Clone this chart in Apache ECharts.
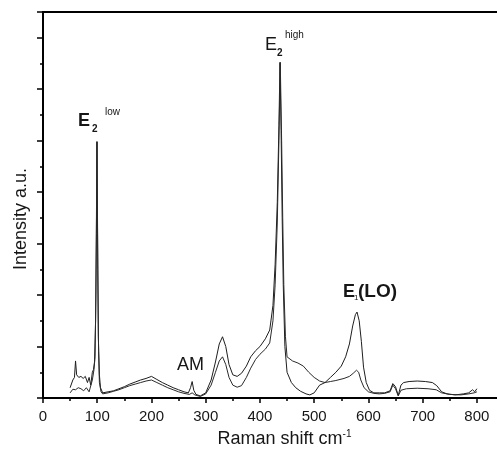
<!DOCTYPE html>
<html>
<head>
<meta charset="utf-8">
<script src="https://cdn.jsdelivr.net/npm/echarts@6/dist/echarts.min.js"></script>
<style>
  html, body { margin: 0; padding: 0; background: #fff; }
  #main { width: 497px; height: 450px; }
</style>
</head>
<body>
<div id="main"></div>
<script>
// spectrum with the strong E1(LO) band
var shiftA = [50, 55, 58, 60, 62, 66, 70, 74, 78, 82, 85, 88, 91, 93, 95, 97, 98.5, 99.5, 100.5, 102, 104, 106, 110,
    120, 130, 140, 150, 160, 170, 180, 190, 200, 210, 220, 230, 240, 250, 260, 268, 272, 275, 278, 282, 290,
    300, 310, 318, 325, 331, 337, 343, 350, 358, 366, 375, 383, 392, 400, 410, 418, 424, 428, 432, 435, 437,
    439, 441, 443, 446, 450, 458, 466, 475, 485, 492, 500, 510, 520, 530, 540, 550, 558, 565, 571, 576, 579,
    583, 587, 591, 596, 602, 610, 620, 630, 640, 645, 650, 655, 660, 665, 675, 690, 705, 718, 726, 735, 745,
    760, 775, 785, 792, 796, 800];
var intensityA = [0.2, 0.35, 0.4, 0.72, 0.45, 0.4, 0.42, 0.38, 0.42, 0.3, 0.4, 0.25, 0.5, 0.55, 0.7, 1.5, 3.2, 4.98, 3.5, 1.2, 0.45, 0.2, 0.1,
    0.12, 0.14, 0.18, 0.22, 0.27, 0.31, 0.35, 0.38, 0.42, 0.36, 0.3, 0.25, 0.2, 0.16, 0.12, 0.1, 0.2, 0.32, 0.15, 0.07, 0.04,
    0.1, 0.35, 0.7, 1.05, 1.19, 1.0, 0.65, 0.45, 0.42, 0.48, 0.62, 0.8, 0.92, 1.0, 1.15, 1.32, 1.8, 2.6, 3.8, 5.3, 6.52,
    5.2, 3.5, 2.2, 1.0, 0.5, 0.3, 0.2, 0.13, 0.08, 0.06, 0.1, 0.25, 0.3, 0.4, 0.5, 0.62, 0.8, 1.05, 1.4, 1.62, 1.67,
    1.5, 1.1, 0.6, 0.3, 0.15, 0.1, 0.1, 0.1, 0.14, 0.28, 0.22, 0.05, 0.25, 0.3, 0.32, 0.33, 0.32, 0.3, 0.24, 0.12, 0.08,
    0.06, 0.08, 0.1, 0.16, 0.12, 0.18];

// second spectrum
var shiftB = [50, 55, 60, 65, 70, 75, 80, 85, 88, 91, 94, 96, 97.5, 99.5, 101, 102.5, 104, 107, 110,
    120, 130, 140, 150, 160, 170, 180, 190, 200, 210, 220, 230, 240, 250, 260, 270, 275, 280, 290,
    300, 310, 318, 325, 331, 337, 343, 350, 358, 366, 375, 383, 392, 400, 410, 418, 424, 428, 432, 435, 437.5,
    440, 442, 444, 447, 450, 460, 470, 480, 490, 500, 510, 520, 530, 540, 555, 565, 572, 578, 582, 586, 592,
    600, 610, 620, 630, 640, 645, 650, 655, 660, 670, 690, 710, 725, 735, 750, 770, 785, 795, 800];
var intensityB = [0.1, 0.17, 0.16, 0.2, 0.18, 0.14, 0.2, 0.12, 0.1, 0.35, 0.55, 0.8, 2.0, 4.98, 2.5, 0.9, 0.3, 0.12, 0.08,
    0.1, 0.13, 0.16, 0.2, 0.24, 0.27, 0.3, 0.33, 0.35, 0.3, 0.25, 0.2, 0.16, 0.12, 0.09, 0.07, 0.1, 0.06, 0.03,
    0.08, 0.25, 0.5, 0.72, 0.8, 0.65, 0.4, 0.25, 0.21, 0.24, 0.4, 0.58, 0.75, 0.85, 0.95, 1.07, 1.5, 2.2, 3.4, 5.0, 6.52,
    5.0, 3.5, 2.2, 1.2, 0.8, 0.72, 0.68, 0.62, 0.5, 0.4, 0.33, 0.3, 0.32, 0.34, 0.38, 0.42, 0.48, 0.54, 0.5, 0.35, 0.2,
    0.12, 0.09, 0.08, 0.09, 0.12, 0.25, 0.18, 0.04, 0.15, 0.18, 0.19, 0.18, 0.16, 0.1, 0.07, 0.06, 0.08, 0.1, 0.12];

var xTicks = [0, 100, 200, 300, 400, 500, 600, 700, 800];

function pairs(xs, ys) {
    var out = [];
    for (var i = 0; i < xs.length; i++) {
        out.push([xs[i], ys[i]]);
    }
    return out;
}

var font = '"Liberation Sans", Arial, sans-serif';
var ink = '#161616';

var chart = echarts.init(document.getElementById('main'));

var option = {
    animation: false,
    backgroundColor: '#fff',
    grid: {
        left: 43, right: -7, top: 12, bottom: 52,
        outerBoundsMode: 'none',
        show: true, borderColor: '#000', borderWidth: 2
    },
    xAxis: {
        type: 'value',
        min: 0, max: 850, interval: 100,
        axisLine: { lineStyle: { color: '#000', width: 2 } },
        axisTick: { length: 5, lineStyle: { color: '#000', width: 1.5 } },
        minorTick: { show: true, splitNumber: 2, length: 3, lineStyle: { color: '#000', width: 1.5 } },
        splitLine: { show: false },
        axisLabel: {
            margin: 11, color: ink, fontFamily: font, fontSize: 15,
            showMaxLabel: false,
            formatter: function (v) { return xTicks.indexOf(v) >= 0 ? String(v) : ''; }
        },
        name: '{t|Raman shift cm}{s|-1}',
        nameLocation: 'middle',
        nameGap: 30,
        nameTextStyle: {
            padding: [0, 0, 0, 22],
            rich: {
                t: { fontFamily: font, fontSize: 18, color: ink },
                s: { fontFamily: font, fontSize: 10, color: ink, verticalAlign: 'top', padding: [0, 0, 10, 0] }
            }
        }
    },
    yAxis: {
        type: 'value',
        min: 0, max: 7.5, interval: 1,
        axisLine: { show: true, lineStyle: { color: '#000', width: 2 } },
        axisTick: { show: true, length: 6, lineStyle: { color: '#000', width: 1.5 } },
        minorTick: { show: true, splitNumber: 2, length: 3, lineStyle: { color: '#000', width: 1.5 } },
        splitLine: { show: false },
        axisLabel: { show: false }
    },
    graphic: [
        { type: 'text', rotation: Math.PI / 2, x: 21, y: 219,
          style: { text: 'Intensity a.u.', font: '18px ' + font, fill: ink, align: 'center', verticalAlign: 'middle' } },
        // E2 low
        { type: 'text', x: 78, y: 121, style: { text: 'E', font: 'bold 18px ' + font, fill: ink, verticalAlign: 'middle' } },
        { type: 'text', x: 92, y: 129, style: { text: '2', font: 'bold 10px ' + font, fill: ink, verticalAlign: 'middle' } },
        { type: 'text', x: 105, y: 112, style: { text: 'low', font: '10px ' + font, fill: ink, verticalAlign: 'middle' } },
        // E2 high
        { type: 'text', x: 265, y: 45, style: { text: 'E', font: '18px ' + font, fill: ink, verticalAlign: 'middle' } },
        { type: 'text', x: 277, y: 53, style: { text: '2', font: 'bold 10px ' + font, fill: ink, verticalAlign: 'middle' } },
        { type: 'text', x: 285, y: 35, style: { text: 'high', font: '10px ' + font, fill: ink, verticalAlign: 'middle' } },
        // AM
        { type: 'text', x: 177, y: 365, style: { text: 'AM', font: '18px ' + font, fill: ink, verticalAlign: 'middle' } },
        // E1 (LO)
        { type: 'text', x: 343, y: 292, style: { text: 'E', font: 'bold 18px ' + font, fill: ink, verticalAlign: 'middle' } },
        { type: 'text', x: 354, y: 298, style: { text: '1', font: '8px ' + font, fill: ink, verticalAlign: 'middle' } },
        { type: 'text', x: 358, y: 292, style: { text: '(LO)', font: 'bold 19px ' + font, fill: ink, verticalAlign: 'middle' } }
    ],
    series: [
        {
            type: 'line',
            data: pairs(shiftA, intensityA),
            showSymbol: false,
            lineStyle: { color: '#1e1e1e', width: 1 },
            z: 3
        },
        {
            type: 'line',
            data: pairs(shiftB, intensityB),
            showSymbol: false,
            lineStyle: { color: '#2a2a2a', width: 1 },
            z: 3
        }
    ]
};

chart.setOption(option);
</script>
</body>
</html>
